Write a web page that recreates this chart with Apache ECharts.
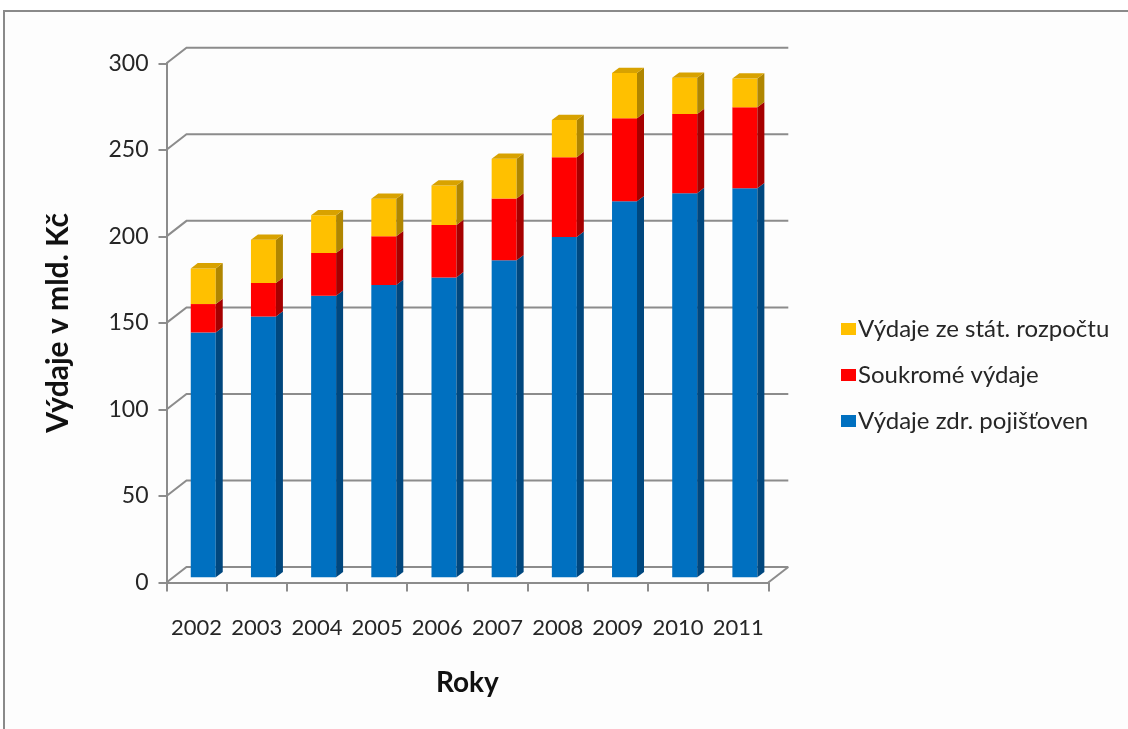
<!DOCTYPE html>
<html>
<head>
<meta charset="utf-8">
<title>Výdaje na zdravotnictví</title>
<script src="https://cdn.jsdelivr.net/npm/echarts@6/dist/echarts.min.js"></script>
<style>
  html, body { margin: 0; padding: 0; background: #ffffff; }
  #chart { width: 1128px; height: 729px; }
</style>
</head>
<body>
<div id="chart"></div>
<script>
// Years on the horizontal axis
const years = ['2002', '2003', '2004', '2005', '2006', '2007', '2008', '2009', '2010', '2011'];

// Spending in billions CZK, stacked bottom to top
const pojistovny = [141.5, 150.7, 162.7, 168.9, 173.3, 183.2, 196.7, 217.3, 222.0, 224.8];
const soukrome   = [16.4, 19.4, 24.7, 28.2, 30.3, 35.7, 46.1, 47.9, 45.7, 46.8];
const rozpocet   = [20.6, 25.0, 21.8, 21.6, 22.8, 23.0, 21.4, 26.2, 21.0, 16.6];

// Value-axis ticks
const yTicks = [0, 50, 100, 150, 200, 250, 300];

const names = ['Výdaje zdr. pojišťoven', 'Soukromé výdaje', 'Výdaje ze stát. rozpočtu'];
const layers = [pojistovny, soukrome, rozpocet];

// Face colours: front, side, top
const faces = [
  { front: '#0070C0', side: '#00477E', top: '#005A9C' },
  { front: '#FF0000', side: '#A60000', top: '#CC0000' },
  { front: '#FFC000', side: '#B08600', top: '#D8A200' }
];

// Oblique depth of the floor / back wall
const DEPTH = [20, -15.5];
// Bar front plane sits one third into the depth, bar is one third deep
const PLANE = [DEPTH[0] / 3, DEPTH[1] / 3];
const BAR_D = [7, -5.3];
const GRID_COLOR = '#8c8c8c';

// Stack bases
const bases = layers.map((arr, k) => arr.map((_, i) => {
  let s = 0;
  for (let j = 0; j < k; j++) s += layers[j][i];
  return s;
}));

function wallRender(params, api) {
  const cs = params.coordSys;
  const v = api.value(0);
  const y = api.coord([0, v])[1];
  const x0 = cs.x, x1 = cs.x + cs.width;
  const children = [{
    type: 'polyline',
    shape: { points: [[x0, y], [x0 + DEPTH[0], y + DEPTH[1]], [x1 + DEPTH[0], y + DEPTH[1]]] },
    style: { stroke: GRID_COLOR, lineWidth: 2, fill: null }
  }];
  if (v === 0) {
    children.push({
      type: 'line',
      shape: { x1: x1, y1: y, x2: x1 + DEPTH[0], y2: y + DEPTH[1] },
      style: { stroke: GRID_COLOR, lineWidth: 2 }
    });
  }
  return { type: 'group', children: children };
}

function makeBarRender(k) {
  return function (params, api) {
    const i = api.value(0);
    const val = api.value(1);
    const base = api.value(2);
    const cx = api.coord([i, 0])[0] + PLANE[0];
    const yb = api.coord([i, base])[1] + PLANE[1];
    const yt = api.coord([i, base + val])[1] + PLANE[1];
    const w = api.size([1, 0])[0] * 0.415;
    const xl = cx - w / 2, xr = cx + w / 2;
    const c = faces[k];
    const children = [
      {
        type: 'polygon',
        shape: { points: [[xl, yb], [xr, yb], [xr, yt], [xl, yt]] },
        style: { fill: c.front }
      },
      {
        type: 'polygon',
        shape: { points: [[xr, yb], [xr + BAR_D[0], yb + BAR_D[1]], [xr + BAR_D[0], yt + BAR_D[1]], [xr, yt]] },
        style: { fill: c.side }
      }
    ];
    if (k === layers.length - 1) {
      children.push({
        type: 'polygon',
        shape: { points: [[xl, yt], [xr, yt], [xr + BAR_D[0], yt + BAR_D[1]], [xl + BAR_D[0], yt + BAR_D[1]]] },
        style: { fill: c.top }
      });
    }
    return { type: 'group', children: children };
  };
}

const barSeries = layers.map((arr, k) => ({
  name: names[k],
  type: 'custom',
  renderItem: makeBarRender(k),
  itemStyle: { color: faces[k].front },
  encode: { x: 0, y: 1 },
  data: arr.map((v, i) => [i, v, bases[k][i]]),
  z: 3 + k
}));

const chart = echarts.init(document.getElementById('chart'));
chart.setOption({
  animation: false,
  backgroundColor: '#ffffff',
  textStyle: { fontFamily: 'Lato' },
  graphic: [{
    type: 'rect',
    shape: { x: 4, y: 11, width: 1200, height: 800 },
    style: { fill: '#fdfdfd', stroke: '#8a8a8a', lineWidth: 2 },
    z: -10,
    silent: true
  }],
  grid: { left: 166.5, right: 359.7, top: 63.3, bottom: 146.5, containLabel: false },
  legend: {
    orient: 'vertical',
    left: 836,
    top: 312,
    itemWidth: 15,
    itemHeight: 12,
    itemGap: 22,
    icon: 'rect',
    data: [names[2], names[1], names[0]],
    textStyle: { fontFamily: 'Lato', fontSize: 24, color: '#262626', padding: [0, 0, 0, -3] }
  },
  xAxis: {
    type: 'category',
    data: years,
    name: 'Roky',
    nameLocation: 'middle',
    nameGap: 86,
    nameTextStyle: { fontFamily: 'Lato', fontSize: 28, fontWeight: 'bold', color: '#111' },
    axisLine: { show: true, lineStyle: { color: GRID_COLOR, width: 2 } },
    axisTick: { show: true, interval: 0, length: 9, lineStyle: { color: GRID_COLOR, width: 2 } },
    axisLabel: { interval: 0, fontFamily: 'Lato', fontSize: 22, color: '#262626', margin: 34 },
    splitLine: { show: false }
  },
  yAxis: {
    type: 'value',
    min: 0,
    max: 300,
    interval: 50,
    name: 'Výdaje v mld. Kč',
    nameLocation: 'middle',
    nameGap: 93,
    nameRotate: 90,
    nameTextStyle: { fontFamily: 'Lato', fontSize: 30, fontWeight: 'bold', color: '#111' },
    axisLine: { show: true, lineStyle: { color: GRID_COLOR, width: 2 } },
    axisTick: { show: true, length: 8, lineStyle: { color: GRID_COLOR, width: 2 } },
    axisLabel: { fontFamily: 'Lato', fontSize: 23, color: '#262626', margin: 18 },
    splitLine: { show: false }
  },
  series: [{
    type: 'custom',
    name: 'wall',
    renderItem: wallRender,
    itemStyle: { color: GRID_COLOR },
    encode: { y: 0 },
    data: yTicks.map(v => [v]),
    silent: true,
    z: 1
  }].concat(barSeries)
});
</script>
</body>
</html>
